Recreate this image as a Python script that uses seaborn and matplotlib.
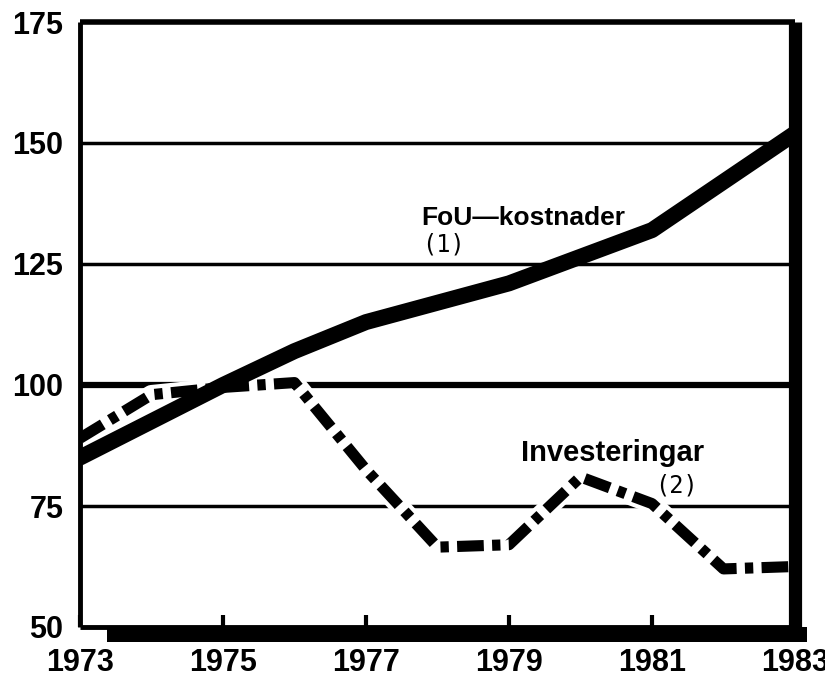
import matplotlib
matplotlib.use('Agg')
import matplotlib.pyplot as plt
from matplotlib.patches import Rectangle
import seaborn as sns

# Index values (1975 = 100)
years = [1973, 1974, 1975, 1976, 1977, 1978, 1979, 1980, 1981, 1982, 1983]
fou = [85, 92.5, 100, 107, 113, 117, 121, 126.5, 132, 142, 152]
invest = [89, 98, 99.5, 100.5, 82.5, 66.5, 67, 81, 75.5, 62, 62.5]

y_ticks = [50, 75, 100, 125, 150, 175]
x_ticks = [1973, 1975, 1977, 1979, 1981, 1983]

sns.set_style('white')
plt.rcParams['font.family'] = ['Liberation Sans', 'DejaVu Sans']
plt.rcParams['text.color'] = 'black'

fig = plt.figure(figsize=(8.25, 6.84), dpi=100)
ax = fig.add_axes([80 / 825, 57 / 684, 715 / 825, 605 / 684])

# horizontal rules
for v in [75, 125, 150]:
    ax.axhline(v, color='black', lw=2.5, zorder=1)
ax.axhline(100, color='black', lw=4.5, zorder=1)

# white halo under the dash-dot line (cuts the rules like in the print)
sns.lineplot(x=years, y=invest, ax=ax, color='white', lw=14, zorder=2)

# FoU-kostnader, heavy solid line
sns.lineplot(x=years, y=fou, ax=ax, color='black', lw=11.5, zorder=3)

# Investeringar, dash-dot
line = sns.lineplot(x=years, y=invest, ax=ax, color='black', lw=8, zorder=4).lines[-1]
line.set_dashes([2.4, 0.75, 0.75, 0.75])
line.set_dash_capstyle('butt')

ax.set_xlim(1973, 1983)
ax.set_ylim(50, 175)
ax.set_xticks(x_ticks)
ax.set_yticks(y_ticks)
ax.set_xticklabels([str(y) for y in x_ticks])
ax.set_yticklabels([str(v) for v in y_ticks])
ax.tick_params(axis='x', bottom=True, direction='in', length=9, width=3,
               color='black', pad=15, labelsize=22, labelcolor='black')
ax.tick_params(axis='y', left=False, length=0, pad=12, labelsize=22,
               labelcolor='black')
for lab in ax.get_xticklabels() + ax.get_yticklabels():
    lab.set_fontweight('bold')
ax.set_xlabel('')
ax.set_ylabel('')

# frame: thin left/top, heavy right, shadowed bottom
for side in ['left', 'top', 'right', 'bottom']:
    ax.spines[side].set_visible(True)
    ax.spines[side].set_color('black')
    ax.spines[side].set_capstyle('butt')
ax.spines['left'].set_linewidth(3.5)
ax.spines['top'].set_linewidth(4)
ax.spines['right'].set_linewidth(9.5)
ax.spines['bottom'].set_linewidth(3.5)
ax.add_patch(Rectangle((0.038, -0.025), 0.979, 0.025, transform=ax.transAxes,
                       facecolor='black', edgecolor='none', clip_on=False, zorder=5))

# series labels
ax.text(1979.2, 134.5, 'FoU\u2014kostnader', ha='center', va='center', fontsize=19,
        fontweight='bold')
ax.text(1978.08, 129.1, '(1)', ha='center', va='center', fontsize=17,
        family=['DejaVu Sans Mono'])
ax.text(1980.45, 86, 'Investeringar', ha='center', va='center', fontsize=21,
        fontweight='bold')
ax.text(1981.34, 79.3, '(2)', ha='center', va='center', fontsize=17,
        family=['DejaVu Sans Mono'])

fig.savefig('out.png', dpi=100, facecolor='white')
